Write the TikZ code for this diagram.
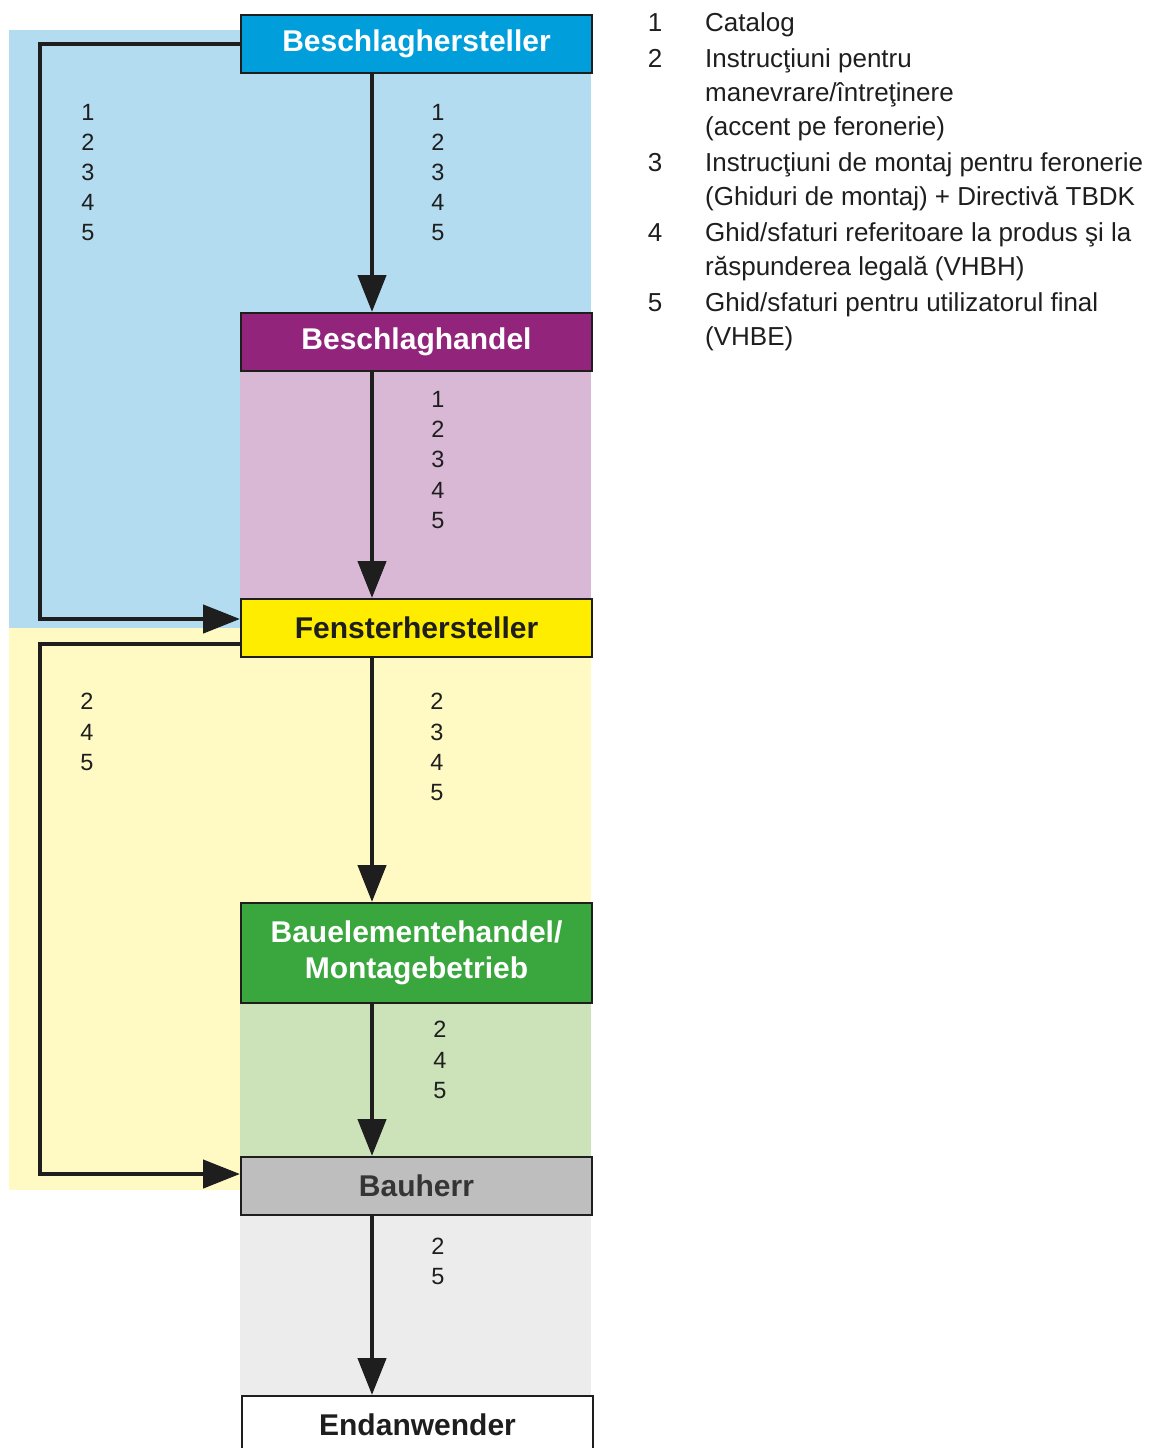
\documentclass[tikz,border=0pt]{standalone}
\usepackage{fontspec}
\setmainfont{Liberation Sans}
\usetikzlibrary{arrows.meta, positioning}

\definecolor{bluebox}{RGB}{0,158,219}
\definecolor{bluebg}{RGB}{180,220,240}
\definecolor{purplebox}{RGB}{146,36,124}
\definecolor{pinkbg}{RGB}{217,184,214}
\definecolor{yellowbox}{RGB}{255,237,0}
\definecolor{yellowbg}{RGB}{255,250,196}
\definecolor{greenbox}{RGB}{58,166,62}
\definecolor{greenbg}{RGB}{204,227,185}
\definecolor{graybox}{RGB}{190,190,190}
\definecolor{graybg}{RGB}{236,236,236}
\definecolor{ink}{RGB}{30,30,30}

\begin{document}
\begin{tikzpicture}[x=1pt, y=-1pt, >={Triangle[length=37pt,width=28pt]}]
    % Stili
    \tikzstyle{box} = [draw=ink, line width=2pt, minimum width=351pt, minimum height=58pt, inner sep=0pt, anchor=north west, align=center, font=\fontsize{30}{36}\selectfont\bfseries]
    \tikzstyle{nums} = [align=center, inner sep=0pt, text=ink, font=\fontsize{23.5}{30.2}\selectfont]
    \tikzstyle{legnum} = [anchor=base, inner sep=0pt, text=ink, font=\fontsize{26}{34}\selectfont]
    \tikzstyle{legtext} = [anchor=base west, inner sep=0pt, text=ink, font=\fontsize{26}{34}\selectfont]
    \tikzstyle{flow} = [->, line width=4.5pt, draw=ink]

    \useasboundingbox (0,0) rectangle (1157,1448);
    \clip (0,0) rectangle (1157,1448);

    % Sfondi colorati
    \fill[bluebg] (9,30) rectangle (240,628);
    \fill[bluebg] (240,72) rectangle (591,312);
    \fill[pinkbg] (240,370) rectangle (591,598);
    \fill[yellowbg] (9,628) rectangle (240,1190);
    \fill[yellowbg] (240,656) rectangle (591,902);
    \fill[greenbg] (240,1002) rectangle (591,1156);
    \fill[graybg] (240,1214) rectangle (591,1395);

    % Blocchi
    \node [box, fill=bluebox, text=white] (hersteller) at (240,14) {Beschlaghersteller};
    \node [box, fill=purplebox, text=white] (handel) at (240,312) {Beschlaghandel};
    \node [box, fill=yellowbox, text=ink] (fenster) at (240,598) {Fensterhersteller};
    \node [box, fill=greenbox, text=white, minimum height=100pt] (montage) at (240,902) {Bauelementehandel/\\Montagebetrieb};
    \node [box, fill=graybox, text=ink!90] (bauherr) at (240,1156) {Bauherr};
    \node [box, fill=white, text=ink] (endan) at (241,1395) {Endanwender};

    % Asse delle frecce
    \coordinate (axis) at (372,0);
    \coordinate (loop) at (40,0);
    \coordinate (fin1) at ([yshift=9pt]fenster.west);
    \coordinate (out2) at ([yshift=-16pt]fenster.west);
    \coordinate (fin2) at ([yshift=12pt]bauherr.west);

    % Collegamenti
    \draw [flow] (axis |- hersteller.south) -- (axis |- handel.north);
    \draw [flow] (axis |- handel.south) -- (axis |- fenster.north);
    \draw [flow] (axis |- fenster.south) -- (axis |- montage.north);
    \draw [flow] (axis |- montage.south) -- (axis |- bauherr.north);
    \draw [flow] (axis |- bauherr.south) -- (axis |- endan.north);
    \draw [flow] (hersteller.west) -| (loop |- fin1) -- (fin1);
    \draw [flow] (out2) -| (loop |- fin2) -- (fin2);

    % Numeri lungo le frecce
    \node [nums] (n1l) at (88,172.5) {1\\2\\3\\4\\5};
    \node [nums] (n1r) at (438,172.5) {1\\2\\3\\4\\5};
    \node [nums] (n2r) at (438,460) {1\\2\\3\\4\\5};
    \node [nums] (n3l) at (87,732) {2\\4\\5};
    \node [nums] (n3r) at (437,747) {2\\3\\4\\5};
    \node [nums] (n4r) at (440,1060) {2\\4\\5};
    \node [nums] (n5r) at (438,1261.5) {2\\5};

    % Legenda
    \node [legnum] (l1) at (655,31.5) {1};
    \node [legtext] (t1) at (705,31.5) {Catalog};
    \node [legnum] (l2) at (655,67.5) {2};
    \node [legtext] (t2a) at (705,67.5) {Instrucţiuni pentru};
    \node [legtext] (t2b) at (705,101.5) {manevrare/întreţinere};
    \node [legtext] (t2c) at (705,135.5) {(accent pe feronerie)};
    \node [legnum] (l3) at (655,171.5) {3};
    \node [legtext] (t3a) at (705,171.5) {Instrucţiuni de montaj pentru feronerie};
    \node [legtext] (t3b) at (705,205.5) {(Ghiduri de montaj) + Directivă TBDK};
    \node [legnum] (l4) at (655,241.5) {4};
    \node [legtext] (t4a) at (705,241.5) {Ghid/sfaturi referitoare la produs şi la};
    \node [legtext] (t4b) at (705,275.5) {răspunderea legală (VHBH)};
    \node [legnum] (l5) at (655,311.5) {5};
    \node [legtext] (t5a) at (705,311.5) {Ghid/sfaturi pentru utilizatorul final};
    \node [legtext] (t5b) at (705,345.5) {(VHBE)};

\end{tikzpicture}
\end{document}
